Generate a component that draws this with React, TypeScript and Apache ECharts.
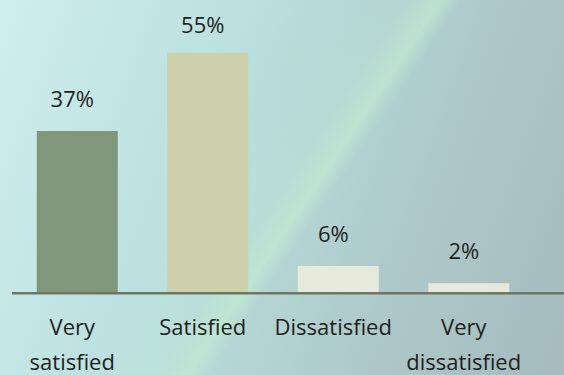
import React, { useEffect, useRef } from "react";
import * as echarts from "echarts";

const categories = ["Very satisfied", "Satisfied", "Dissatisfied", "Very dissatisfied"];
const values = [37, 55, 6, 2];
const barColors = ["#80977b", "#cdd1ab", "#e7eadb", "#e7eadb"];
const labelDistances = [22, 18, 22, 22];

export default function App() {
  const ref = useRef<HTMLDivElement>(null);
  useEffect(() => {
    if (!ref.current) return;
    const chart = echarts.init(ref.current, undefined, { renderer: "svg" });
    const font = "'Open Sans', 'Noto Sans', sans-serif";
    chart.setOption({
      animation: false,
      backgroundColor: "transparent",
      grid: { left: 12, right: 30, top: 31, bottom: 83, containLabel: false, outerBoundsMode: "none" },
      xAxis: {
        type: "category",
        data: categories,
        axisLine: { show: false },
        axisTick: { show: false },
        axisLabel: {
          interval: 0,
          margin: 16,
          fontFamily: font,
          fontSize: 22,
          lineHeight: 35,
          color: "#231f20",
          padding: [0, 10, 0, 0],
          formatter: (v: string) => v.replace(" ", "\n"),
        },
      },
      yAxis: {
        type: "value",
        min: 0,
        max: 60,
        show: false,
        splitLine: { show: false },
      },
      series: [
        {
          type: "bar",
          data: values.map((v, i) => ({
            value: v,
            itemStyle: { color: barColors[i] },
            label: { distance: labelDistances[i] },
          })),
          barWidth: 81,
          label: {
            show: true,
            position: "top",
            distance: 22,
            offset: [-5, 0],
            formatter: "{c}%",
            fontFamily: font,
            fontSize: 22,
            color: "#231f20",
          },
        },
      ],
      graphic: [
        {
          type: "line",
          z: 100,
          shape: { x1: 12, y1: 293.2, x2: 564, y2: 293.2 },
          style: { stroke: "#6f7662", lineWidth: 2.5 },
        },
      ],
    });
    return () => chart.dispose();
  }, []);
  return (
    <div
      style={{
        position: "absolute",
        left: 0,
        top: 0,
        width: 564,
        height: 375,
        background:
          "linear-gradient(124deg, rgba(195,236,212,0) 40%, rgba(195,236,212,0.25) 50%, rgba(198,240,208,0.55) 54%, rgba(195,236,212,0) 56.5%), linear-gradient(110deg, #cfeeee 0%, #b9dedd 40%, #aec9ca 70%, #a5bbbf 100%)",
      }}
    >
      <div ref={ref} style={{ width: 564, height: 375 }} />
    </div>
  );
}
